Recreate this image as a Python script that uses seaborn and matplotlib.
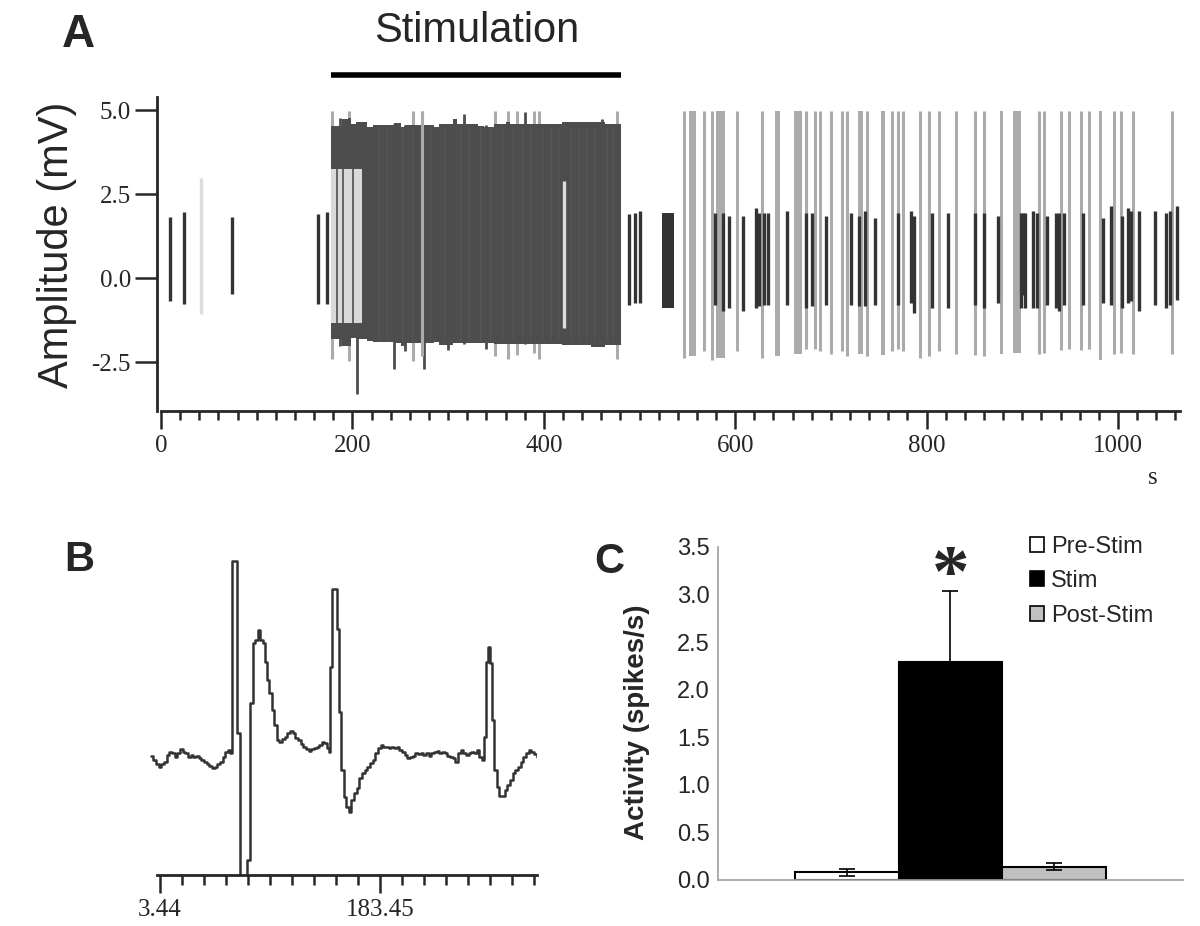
"""
Spike recording before / during / after stimulation (A), single trace (B),
mean activity per period (C)
"""
import numpy as np
import pandas as pd
import seaborn as sns
import matplotlib.pyplot as plt
from matplotlib.patches import Patch

sns.set_style('ticks')
plt.rcParams['font.family'] = ['Liberation Sans', 'DejaVu Sans']
plt.rcParams['axes.unicode_minus'] = False
SERIF = 'Liberation Serif'

#######################################################################################
# Panel A data (time in s, amplitude in mV)
stim_window = [178, 481]

pre_t = [9.4, 24.3, 74.2, 164.0, 173.0]
pre_top = [1.82, 1.97, 1.82, 1.92, 1.97]
pre_bot = [-0.69, -0.77, -0.46, -0.77, -0.77]

faint_t = [41.9, 421.3]
faint_top = [2.99, 2.91]
faint_bot = [-1.06, -1.48]

# envelope of the dense burst during stimulation (step edges)
burst_t = [178, 184, 189, 195, 199, 204, 215, 221, 243, 251, 255, 285, 290, 305, 309,
           331, 337, 348, 360, 365, 404, 419, 449, 464, 481]
burst_top = [4.54, 4.54, 4.73, 4.78, 4.59, 4.64, 4.49, 4.56, 4.61, 4.49, 4.56, 4.51, 4.59,
             4.73, 4.59, 4.54, 4.51, 4.59, 4.64, 4.59, 4.59, 4.64, 4.64, 4.59, 4.59]
burst_bot = [-1.82, -1.82, -2.02, -2.02, -1.78, -1.82, -1.87, -1.90, -1.92, -2.02, -1.92,
             -1.90, -2.00, -1.92, -1.92, -1.92, -1.92, -1.97, -1.97, -1.97, -1.97, -2.00,
             -2.04, -2.00, -2.00]

# burst spikes sticking out of the envelope
burst_spk_t = [187.0, 205.2, 243.0, 254.7, 275.0, 300.0, 316.5, 340.0, 380.1, 460.6]
burst_spk_top = [4.78, 4.60, 4.60, 4.56, 4.55, 4.60, 4.90, 4.55, 4.96, 4.73]
burst_spk_bot = [-2.02, -3.45, -2.69, -2.17, -2.69, -2.15, -1.95, -2.10, -1.97, -2.00]

# faint texture lines inside the burst
burst_line_t = [228, 236, 252, 262, 281, 296, 312, 322, 333, 344, 356, 368, 377, 386,
                398, 408, 415, 428, 437, 444, 452, 466, 472]

# early part of the burst, lighter units
early_t = [178, 210]
early_top = [3.25, 3.25]
early_bot = [-1.33, -1.33]
early_dark_t = [183.5, 190.2, 200.3]

light_t = [179.0, 196.6, 263.3, 272.6, 349.1, 362.5, 371.5, 389.5, 395.1, 476.7,
           546.7, 567.0, 575.3, 602.0, 627.8, 674.4, 683.5, 688.7, 700.2, 711.3, 717.3,
           738.0, 763.8, 770.2, 775.7, 792.8, 802.0, 812.7, 830.6, 850.5, 860.4, 917.3,
           922.9, 940.7, 949.1, 961.0, 969.8, 995.6, 1003.5, 1015.9, 1056.4]
light_bot = [-2.40, -2.47, -2.47, -2.30, -2.32, -2.40, -2.28, -2.22, -2.40, -2.40,
             -2.36, -2.16, -2.44, -2.16, -2.36, -2.11, -2.11, -2.16, -2.24, -2.16, -2.31,
             -2.31, -2.16, -2.11, -2.16, -2.36, -2.31, -2.16, -2.24, -2.28, -2.31, -2.24,
             -2.21, -2.14, -2.11, -2.14, -2.11, -2.24, -2.21, -2.24, -2.24]
light_top = 4.97

light_blk_start = [551.5, 580.0, 641.7, 661.6, 728.4, 752.3, 876.3, 890.2, 979.7]
light_blk_end = [559.4, 588.9, 646.5, 669.6, 733.2, 756.3, 880.3, 898.2, 983.7]
light_blk_bot = [-2.30, -2.36, -2.31, -2.26, -2.26, -2.28, -2.26, -2.21, -2.44]

post_cluster_t = [523.3, 536.4]
post_cluster_top = [1.93, 1.93]
post_cluster_bot = [-0.88, -0.88]

post_t = [488.7, 495.0, 500.6, 578.5, 587.3, 593.2, 608.0, 621.5, 624.7, 629.8, 633.8,
          654.1, 674.4, 680.3, 694.6, 721.3, 729.2, 735.2, 746.3, 770.2, 784.1, 786.9,
          805.2, 822.3, 850.9, 860.0, 874.4, 899.0, 901.0, 903.0, 911.7, 914.9, 926.0,
          935.2, 938.0, 943.9, 963.8, 984.1, 992.8, 1004.4, 1010.3, 1013.5, 1021.5,
          1038.9, 1050.0, 1054.0, 1062.0]
post_top = [1.91, 1.93, 2.01, 1.93, 1.93, 1.86, 1.86, 2.08, 1.93, 1.93, 1.93,
            2.01, 1.93, 1.93, 1.86, 1.93, 1.86, 2.01, 1.79, 1.93, 2.01, 1.86,
            1.93, 1.93, 1.93, 1.93, 1.86, 1.93, 1.93, 1.93, 2.01, 1.93, 1.86,
            1.93, 1.93, 1.93, 1.93, 1.79, 2.16, 1.86, 2.08, 2.01, 2.01,
            2.01, 1.93, 2.01, 2.16]
post_bot = [-0.80, -0.73, -0.73, -0.80, -0.96, -0.88, -0.96, -0.88, -0.83, -0.80, -0.80,
            -0.80, -0.88, -0.83, -0.80, -0.80, -0.83, -0.83, -0.80, -0.80, -0.73, -1.03,
            -0.88, -0.88, -0.80, -0.88, -0.73, -0.88, -0.50, -0.88, -0.88, -0.88, -0.80,
            -0.88, -0.96, -0.80, -0.80, -0.73, -0.80, -0.88, -0.73, -0.68, -0.96,
            -0.80, -0.88, -0.80, -0.66]

#######################################################################################
# Panel B data (single trace)
trace_t = [-4.2, -2.0, 0.2, 2.3, 4.5, 6.7, 8.9, 11.1, 13.3, 15.4,
           17.6, 19.8, 22.0, 24.2, 26.3, 28.5, 30.7, 32.9, 35.1, 37.3,
           39.4, 41.6, 43.8, 46.0, 48.2, 50.3, 52.5, 54.7, 56.9, 59.1,
           60.7, 62.3, 66.7, 68.9, 74.9, 77.1, 79.3, 81.4, 83.6, 85.3,
           87.4, 89.1, 90.7, 92.9, 95.1, 96.7, 98.9, 101.1, 103.3, 105.4,
           107.6, 109.8, 112.0, 114.2, 116.3, 118.5, 120.7, 122.9, 125.1, 127.2,
           129.4, 131.6, 133.8, 136.0, 137.6, 139.8, 141.4, 142.5, 144.2, 148.0,
           150.2, 151.8, 154.0, 155.6, 157.8, 160.0, 162.2, 164.3, 166.5, 168.7,
           170.9, 173.1, 175.2, 177.4, 179.6, 181.8, 184.0, 186.2, 188.3, 190.5,
           192.7, 194.9, 197.1, 199.2, 201.4, 203.6, 205.8, 208.0, 210.1, 212.3,
           214.5, 216.7, 218.9, 221.1, 223.2, 225.4, 227.6, 229.8, 232.0, 234.1,
           236.3, 238.5, 240.7, 242.9, 245.1, 247.2, 249.4, 251.6, 253.8, 256.0,
           258.1, 260.3, 262.5, 264.7, 266.9, 268.5, 270.1, 271.8, 273.4, 275.1,
           276.7, 278.9, 281.1, 283.2, 285.4, 287.6, 289.8, 292.0, 294.1, 296.3,
           298.5, 300.7, 302.9, 305.0, 307.2, 309.4, 311.6]
trace_v = [3.57, 3.45, 3.33, 3.25, 3.33, 3.40, 3.60, 3.70, 3.65, 3.55,
           3.67, 3.77, 3.70, 3.65, 3.55, 3.60, 3.53, 3.57, 3.50, 3.45,
           3.40, 3.33, 3.27, 3.20, 3.25, 3.33, 3.40, 3.55, 3.70, 3.75,
           3.67, 9.43, 4.27, -1.0, 0.45, 5.15, 6.95, 7.05, 7.37, 7.05,
           6.95, 6.40, 5.85, 5.45, 4.95, 4.50, 4.05, 4.00, 4.07, 4.15,
           4.25, 4.33, 4.25, 4.10, 4.05, 3.93, 3.85, 3.77, 3.73, 3.77,
           3.80, 3.85, 3.90, 4.00, 3.95, 3.80, 3.70, 6.25, 8.60, 7.40,
           4.90, 3.15, 2.35, 2.05, 1.90, 2.25, 2.45, 2.60, 2.90, 3.05,
           3.15, 3.25, 3.35, 3.45, 3.65, 3.80, 3.90, 3.85, 3.85, 3.80,
           3.85, 3.80, 3.83, 3.75, 3.70, 3.60, 3.50, 3.53, 3.57, 3.65,
           3.63, 3.67, 3.60, 3.65, 3.57, 3.65, 3.70, 3.73, 3.67, 3.70,
           3.65, 3.57, 3.55, 3.50, 3.40, 3.65, 3.75, 3.65, 3.60, 3.65,
           3.70, 3.65, 3.75, 3.55, 3.45, 4.15, 6.40, 6.85, 6.35, 4.65,
           3.15, 2.65, 2.37, 2.37, 2.55, 2.70, 2.85, 3.05, 3.15, 3.25,
           3.40, 3.55, 3.65, 3.75, 3.70, 3.63, 3.55]
trace_major = [3.44, 183.45]

#######################################################################################
# Panel C data
conditions = ['Pre-Stim', 'Stim', 'Post-Stim']
activity = [0.08, 2.29, 0.14]
err_low = [0.035, 0.0, 0.04]
err_high = [0.035, 0.75, 0.04]
bar_colors = ['white', 'black', '#c0c0c0']

#######################################################################################
fig = plt.figure(figsize=(12, 9.26), dpi=100)

# ---- Panel A
axA = fig.add_axes([0.1310, 0.5562, 0.8525, 0.3392])
axA.vlines(light_t, light_bot, light_top, color='#ababab', lw=2.2, zorder=1)
for s, e, b in zip(light_blk_start, light_blk_end, light_blk_bot):
    axA.fill_between([s, e], [b, b], [light_top, light_top], color='#ababab', lw=0, zorder=1)
axA.fill_between(burst_t, burst_bot, burst_top, step='post', color='#4d4d4d', lw=0, zorder=2)
axA.vlines(burst_spk_t, burst_spk_bot, burst_spk_top, color='#4d4d4d', lw=2.0, zorder=2)
axA.vlines(burst_line_t, -1.85, 4.5, color='#575757', lw=0.8, zorder=2.5)
axA.fill_between(early_t, early_bot, early_top, color='#d9d9d9', lw=0, zorder=3)
axA.vlines(early_dark_t, early_bot[0], early_top[0], color='#5a5a5a', lw=1.3, zorder=3)
axA.vlines([272.6], [-2.30], [light_top], color='#ababab', lw=2.2, zorder=4)
axA.vlines(faint_t, faint_bot, faint_top, color='#dcdcdc', lw=2.4, zorder=4)
axA.vlines(pre_t, pre_bot, pre_top, color='#333333', lw=2.4, zorder=5)
axA.fill_between(post_cluster_t, post_cluster_bot, post_cluster_top, color='#333333', lw=0, zorder=5)
axA.vlines(post_t, post_bot, post_top, color='#333333', lw=2.4, zorder=5)

axA.set_xlim(-4, 1065)
axA.set_ylim(-3.95, 5.4)
sns.despine(ax=axA)
for side in ['left', 'bottom']:
    axA.spines[side].set_linewidth(2.0)
axA.spines['bottom'].set_bounds(0, 1065)
axA.set_xticks(range(0, 1001, 200), labels=[str(v) for v in range(0, 1001, 200)],
               fontfamily=SERIF, fontsize=18)
axA.set_xticks(range(0, 1061, 20), minor=True)
axA.set_yticks([-2.5, 0, 2.5, 5.0], labels=['-2.5', '0.0', '2.5', '5.0'],
               fontfamily=SERIF, fontsize=18)
axA.tick_params(axis='x', which='major', length=13, width=1.8, pad=4)
axA.tick_params(axis='x', which='minor', length=6.5, width=1.8)
axA.tick_params(axis='y', length=16, width=1.8, pad=3)
axA.set_ylabel('Amplitude (mV)', fontsize=30)
axA.yaxis.set_label_coords(-0.078, 0.53)

axA.plot(stim_window, [6.05, 6.05], color='black', lw=4, clip_on=False,
         solid_capstyle='butt')
axA.text(np.mean(stim_window), 7.35, 'Stimulation', ha='center', va='center',
         fontsize=30, clip_on=False)
fig.text(1153 / 1200, 1 - 478 / 926, 's', family=SERIF, fontsize=18,
         ha='center', va='center')

# ---- Panel B
axB = fig.add_axes([0.1253, 0.0551, 0.3223, 0.3417])
sns.lineplot(x=trace_t, y=trace_v, ax=axB, drawstyle='steps-post', color='#333333',
             lw=1.8, estimator=None, sort=False, legend=False)
axB.set_xlim(-4.5, 312)
axB.set_ylim(0, 9.5)
sns.despine(ax=axB, left=True)
axB.spines['bottom'].set_linewidth(2.0)
axB.spines['bottom'].set_bounds(0.7, 311.5)
axB.set_yticks([])
axB.set_xticks(trace_major, labels=[f'{v:.2f}' for v in trace_major],
               fontfamily=SERIF, fontsize=18)
axB.set_xticks(np.arange(trace_major[0], 312, (trace_major[1] - trace_major[0]) / 10),
               minor=True)
axB.tick_params(axis='x', which='major', length=13, width=1.8, pad=4)
axB.tick_params(axis='x', which='minor', length=7, width=1.8)

# ---- Panel C
axC = fig.add_axes([0.5983, 0.0497, 0.3875, 0.3596])
df = pd.DataFrame({'group': ['all'] * 3, 'cond': conditions, 'activity': activity})
sns.barplot(data=df, x='group', y='activity', hue='cond', hue_order=conditions,
            palette=bar_colors, width=0.668, edgecolor='black', linewidth=1.5,
            errorbar=None, saturation=1, legend=False, ax=axC)
centers = [p.get_x() + p.get_width() / 2 for p in axC.patches]
axC.errorbar(centers, activity, yerr=[err_low, err_high], fmt='none', ecolor='black',
             elinewidth=1.2, capsize=6, capthick=1.2, zorder=5)
axC.text(centers[1], 3.17, '*', fontsize=54, fontweight='bold', family=SERIF,
         ha='center', va='center')
axC.set_xlim(-0.5, 0.5)
axC.set_ylim(0, 3.5)
sns.despine(ax=axC)
for side in ['left', 'bottom']:
    axC.spines[side].set_color('#a0a0a0')
    axC.spines[side].set_linewidth(1.2)
axC.set_xticks([])
axC.set_xlabel('')
axC.set_yticks(np.arange(0, 3.51, 0.5), labels=[f'{v:.1f}' for v in np.arange(0, 3.51, 0.5)],
               fontsize=17, color='#262626')
axC.tick_params(axis='y', length=0, pad=6)
axC.set_ylabel('Activity (spikes/s)', fontsize=20, fontweight='bold')
axC.yaxis.set_label_coords(-0.146, 0.474)

handles = [Patch(facecolor=c, edgecolor='black', lw=1.2) for c in bar_colors]
axC.legend(handles, conditions, loc='upper left', bbox_to_anchor=(1030 / 1200, 1 - 536 / 926),
           bbox_transform=fig.transFigure, frameon=False, fontsize=17, handlelength=0.6,
           handleheight=0.6, handletextpad=0.3, labelspacing=0.52, borderpad=0,
           borderaxespad=0)

# ---- Panel letters
fig.text(62 / 1200, 1 - 35 / 926, 'A', fontsize=33, fontweight='bold', va='center')
fig.text(64 / 1200, 1 - 560 / 926, 'B', fontsize=30, fontweight='bold', va='center')
fig.text(594 / 1200, 1 - 562 / 926, 'C', fontsize=30, fontweight='bold', va='center')

fig.savefig('out.png', dpi=100)
